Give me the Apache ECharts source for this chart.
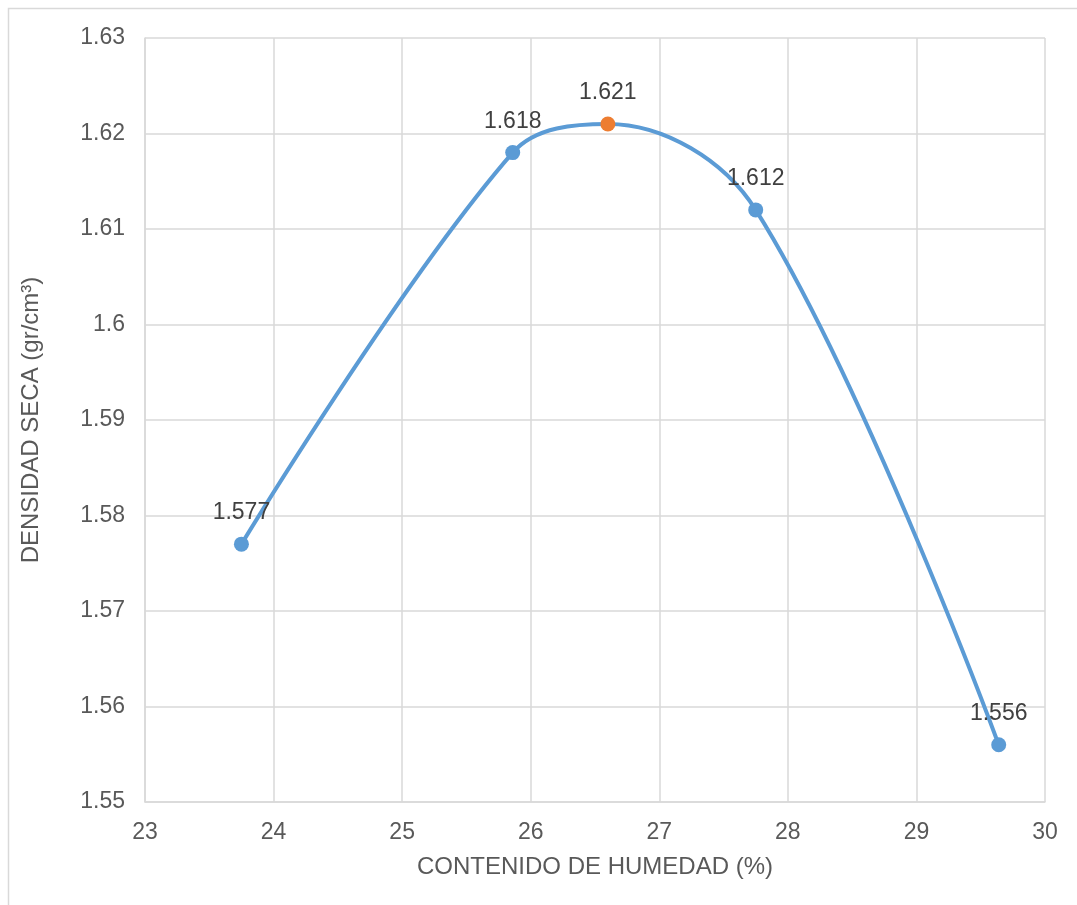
<!DOCTYPE html>
<html><head><meta charset="utf-8">
<script src="https://cdn.jsdelivr.net/npm/echarts@6/dist/echarts.min.js"></script>
<style>html,body{margin:0;padding:0;background:#fff}#c{width:1077px;height:905px}</style>
</head><body><div id="c"></div>
<script>
const humedad = [23.75, 25.86, 26.60, 27.75, 29.64];
const densidad = [1.577, 1.618, 1.621, 1.612, 1.556];
const maxIndex = 2;
const xTitle = 'CONTENIDO DE HUMEDAD (%)';
const yTitle = 'DENSIDAD SECA (gr/cm³)';
const FONT = '"Liberation Sans", Arial, sans-serif';
const TXT = '#595959';
const GRID = '#d9d9d9';

const data = humedad.map((x, i) => {
  const d = { value: [x, densidad[i]] };
  if (i === maxIndex) d.itemStyle = { color: '#ed7d31' };
  return d;
});

const chart = echarts.init(document.getElementById('c'), null, { renderer: 'canvas' });
chart.setOption({
  animation: false,
  backgroundColor: '#fff',
  textStyle: { fontFamily: FONT },
  graphic: [{ type: 'rect', shape: { x: 8.5, y: 8.5, width: 1100, height: 920 }, style: { fill: 'none', stroke: GRID, lineWidth: 1.5 }, silent: true }],
  grid: { left: 145, right: 32, top: 38, bottom: 103 },
  xAxis: {
    type: 'value', min: 23, max: 30, interval: 1,
    name: xTitle, nameLocation: 'middle', nameGap: 53,
    nameTextStyle: { color: TXT, fontSize: 24, fontFamily: FONT },
    axisLine: { show: true, lineStyle: { color: GRID, width: 1.5 } },
    axisTick: { show: false },
    axisLabel: { color: TXT, fontSize: 23, margin: 19, fontFamily: FONT },
    splitLine: { show: true, lineStyle: { color: GRID, width: 1.5 } }
  },
  yAxis: {
    type: 'value', min: 1.55, max: 1.63, interval: 0.01,
    name: yTitle, nameLocation: 'middle', nameGap: 102,
    nameTextStyle: { color: TXT, fontSize: 24, fontFamily: FONT },
    axisLine: { show: true, lineStyle: { color: GRID, width: 1.5 } },
    axisTick: { show: false },
    axisLabel: { color: TXT, fontSize: 23, margin: 20, fontFamily: FONT },
    splitLine: { show: true, lineStyle: { color: GRID, width: 1.5 } }
  },
  series: [{
    type: 'line',
    data: data,
    smooth: 0.36,
    symbol: 'circle', symbolSize: 15,
    lineStyle: { color: '#5b9bd5', width: 4 },
    itemStyle: { color: '#5b9bd5' },
    label: {
      show: true, position: 'top', distance: 12,
      color: '#404040', fontSize: 23, fontFamily: FONT,
      formatter: p => p.value[1].toFixed(3)
    }
  }]
});
</script></body></html>
